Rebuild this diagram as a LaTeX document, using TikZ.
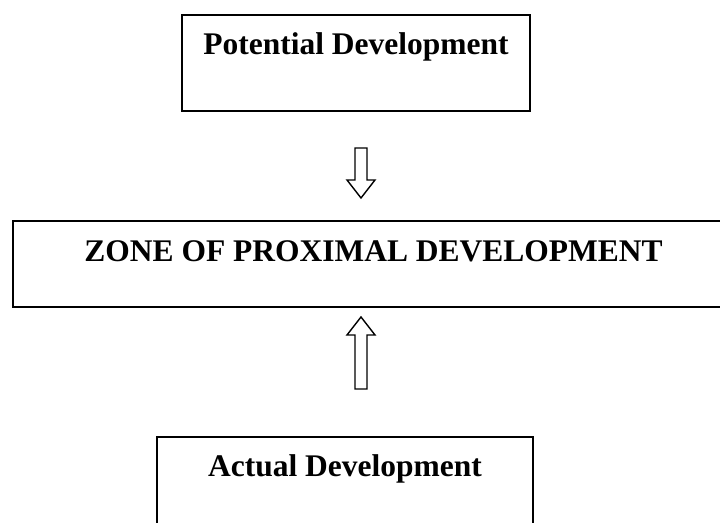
\documentclass[tikz,border=0pt]{standalone}
\usepackage{fontspec}
\setmainfont{Liberation Serif}
\usepackage{tikz}
\usetikzlibrary{calc}

\newcommand{\hollowarrow}[2]{%
  \draw[harrow] ($(#1)+(-0.15,0)$) -- ($($(#2)!0.45cm!(#1)$)+(-0.15,0)$)
    -- ($($(#2)!0.45cm!(#1)$)+(-0.35,0)$) -- (#2)
    -- ($($(#2)!0.45cm!(#1)$)+(0.35,0)$) -- ($($(#2)!0.45cm!(#1)$)+(0.15,0)$)
    -- ($(#1)+(0.15,0)$) -- cycle;}

\begin{document}
\begin{tikzpicture}[
    stage/.style={draw=black, line width=1.4pt, inner xsep=0pt, inner ysep=0pt,
                  font=\bfseries\fontsize{22.4}{26}\selectfont,
                  text height=1cm, text depth=1.4cm},
    harrow/.style={draw=black, line width=1pt, fill=white}
  ]
    \useasboundingbox (0,0) rectangle (18,13.075);
    \clip (0,0) rectangle (18,13.075);

    \node[stage, minimum width=8.7cm] (potential) at (8.9, 11.5) {Potential Development};
    \node[stage, minimum width=18.025cm, text height=1.025cm, text depth=1.125cm]
      (zpd) at (9.3375, 6.475) {ZONE OF PROXIMAL DEVELOPMENT};
    \node[stage, minimum width=9.4cm] (actual) at (8.625, 0.95) {Actual Development};

    \coordinate (downfrom) at (9.025, 9.375);
    \coordinate (downto) at (9.025, 8.125);
    \coordinate (upfrom) at (9.025, 3.35);
    \coordinate (upto) at (9.025, 5.15);

    \hollowarrow{downfrom}{downto}
    \hollowarrow{upfrom}{upto}
  \end{tikzpicture}
\end{document}
